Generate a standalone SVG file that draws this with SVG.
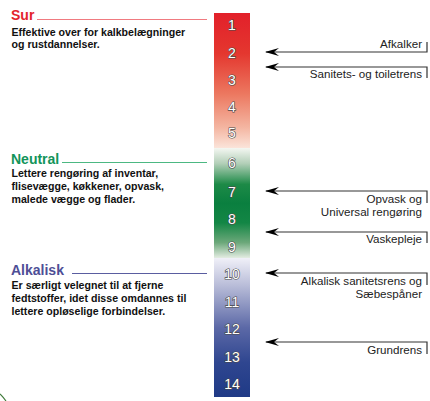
<svg xmlns="http://www.w3.org/2000/svg" width="430" height="401" viewBox="0 0 430 401">
<defs>
<linearGradient id="gRed" x1="0" y1="0" x2="0" y2="1">
<stop offset="0" stop-color="#e2202a"/><stop offset="0.3" stop-color="#e4372f"/><stop offset="0.6" stop-color="#ec7860"/><stop offset="0.85" stop-color="#f4b6a2"/><stop offset="1" stop-color="#fbe4da"/>
</linearGradient>
<linearGradient id="gGreen" x1="0" y1="0" x2="0" y2="1">
<stop offset="0" stop-color="#f4f7f2"/><stop offset="0.14" stop-color="#b3cfb8"/><stop offset="0.33" stop-color="#1d8a47"/><stop offset="0.5" stop-color="#0a7f3f"/><stop offset="0.68" stop-color="#138645"/><stop offset="0.86" stop-color="#6ca87a"/><stop offset="1" stop-color="#e3ece2"/>
</linearGradient>
<linearGradient id="gBlue" x1="0" y1="0" x2="0" y2="1">
<stop offset="0" stop-color="#f0f0f8"/><stop offset="0.2" stop-color="#b8bcd8"/><stop offset="0.5" stop-color="#5c69a7"/><stop offset="0.75" stop-color="#2f4690"/><stop offset="1" stop-color="#1f3a86"/>
</linearGradient>
<marker id="ah" markerWidth="15" markerHeight="9" refX="13" refY="4.5" orient="auto" markerUnits="userSpaceOnUse">
<path d="M14,4.5 L0,0.5 L5,4.5 L0,8.5 Z" fill="#000"/>
</marker>
</defs>
<style>
.title{font-family:"Liberation Sans",Arial,sans-serif;font-weight:bold;font-size:14px}
.desc{font-family:"Liberation Sans",Arial,sans-serif;font-weight:bold;font-size:10.6px;fill:#111}
.num{font-family:"Liberation Sans",Arial,sans-serif;font-size:14px;fill:#fff;stroke:#4a4a4a;stroke-width:1.2;paint-order:stroke;text-anchor:middle}
.lbl{font-family:"Liberation Sans",Arial,sans-serif;font-size:11.6px;fill:#222;text-anchor:end}
.conn{fill:none;stroke:#333;stroke-width:1.2}
</style>

<g id="scale">
<rect x="214" y="13" width="36" height="135" fill="url(#gRed)"/>
<rect x="214" y="148" width="36" height="110" fill="url(#gGreen)"/>
<rect x="214" y="258" width="36" height="139" fill="url(#gBlue)"/>
<text class="num" x="232" y="30">1</text>
<text class="num" x="232" y="58">2</text>
<text class="num" x="232" y="85">3</text>
<text class="num" x="232" y="112">4</text>
<text class="num" x="232" y="138">5</text>
<text class="num" x="232" y="168">6</text>
<text class="num" x="232" y="197">7</text>
<text class="num" x="232" y="224">8</text>
<text class="num" x="232" y="252">9</text>
<text class="num" x="232" y="279">10</text>
<text class="num" x="232" y="307">11</text>
<text class="num" x="232" y="334">12</text>
<text class="num" x="232" y="362">13</text>
<text class="num" x="232" y="389">14</text>
</g>

<g id="sur">
<text class="title" x="11" y="20" fill="#e3242b">Sur</text>
<line x1="37" y1="19.5" x2="207" y2="19.5" stroke="#f07a80" stroke-width="1.2"/>
<text class="desc" x="11.5" y="36">Effektive over for kalkbelægninger</text>
<text class="desc" x="11.5" y="48">og rustdannelser.</text>
</g>

<g id="neutral">
<text class="title" x="11" y="163.5" fill="#13945a">Neutral</text>
<line x1="62" y1="162.5" x2="207" y2="162.5" stroke="#4cb882" stroke-width="1.2"/>
<text class="desc" x="11.5" y="177">Lettere rengøring af inventar,</text>
<text class="desc" x="11.5" y="190">flisevægge, køkkener, opvask,</text>
<text class="desc" x="11.5" y="203">malede vægge og flader.</text>
</g>

<g id="alkalisk">
<text class="title" x="11" y="275" fill="#4e4e96">Alkalisk</text>
<line x1="72" y1="273.5" x2="207" y2="273.5" stroke="#5a5da0" stroke-width="1.2"/>
<text class="desc" x="11.5" y="288.5">Er særligt velegnet til at fjerne</text>
<text class="desc" x="11.5" y="302">fedtstoffer, idet disse omdannes til</text>
<text class="desc" x="11.5" y="315">lettere opløselige forbindelser.</text>
</g>

<g id="connectors">
<path class="conn" d="M427,42 V52 H266" marker-end="url(#ah)"/>
<path class="conn" d="M427,78 V67 H266" marker-end="url(#ah)"/>
<path class="conn" d="M427,203 V191 H266" marker-end="url(#ah)"/>
<path class="conn" d="M427,243 V232 H266" marker-end="url(#ah)"/>
<path class="conn" d="M427,285 V273 H266" marker-end="url(#ah)"/>
<path class="conn" d="M427,354 V342 H266" marker-end="url(#ah)"/>
</g>

<g id="labels">
<text class="lbl" x="422" y="48">Afkalker</text>
<text class="lbl" x="422" y="78">Sanitets- og toiletrens</text>
<text class="lbl" x="422" y="203">Opvask og</text>
<text class="lbl" x="422" y="216">Universal rengøring</text>
<text class="lbl" x="422" y="243">Vaskepleje</text>
<text class="lbl" x="422" y="285">Alkalisk sanitetsrens og</text>
<text class="lbl" x="422" y="298">Sæbespåner</text>
<text class="lbl" x="422" y="354">Grundrens</text>
</g>

<path d="M0,394 Q3,397 6,401" fill="none" stroke="#3f7a3a" stroke-width="1.2"/>
</svg>
